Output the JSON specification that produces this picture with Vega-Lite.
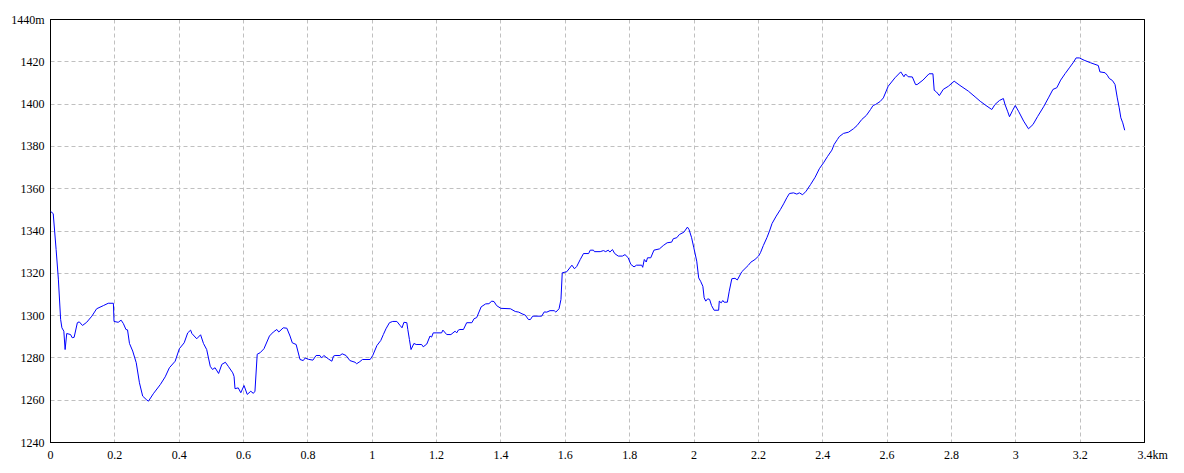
{
  "$schema": "https://vega.github.io/schema/vega-lite/v6.json",
  "width": 1094,
  "height": 423,
  "autosize": {"type": "none"},
  "padding": {"left": 50, "top": 19, "right": 40, "bottom": 31},
  "background": "white",
  "config": {
    "view": {"stroke": "black", "strokeWidth": 1},
    "axis": {
      "labelFont": "Liberation Sans Narrow",
      "labelFontSize": 12,
      "labelColor": "black",
      "domainColor": "black",
      "domainWidth": 1,
      "ticks": false,
      "title": null,
      "gridColor": "#c0c0c0",
      "gridDash": [4, 3],
      "gridWidth": 1
    }
  },
  "data": {"values": [
    {"d":0.002,"e":1349},{"d":0.010,"e":1348},{"d":0.019,"e":1331},{"d":0.026,"e":1317},{"d":0.033,"e":1298},{"d":0.037,"e":1294},{"d":0.043,"e":1292.4},{"d":0.047,"e":1283.7},{"d":0.052,"e":1291.3},{"d":0.064,"e":1290.8},{"d":0.069,"e":1289.3},{"d":0.075,"e":1289.5},{"d":0.085,"e":1296.4},{"d":0.091,"e":1296.8},{"d":0.101,"e":1295.1},{"d":0.114,"e":1296.6},{"d":0.130,"e":1299.5},{"d":0.145,"e":1303},{"d":0.166,"e":1304.5},{"d":0.181,"e":1305.6},{"d":0.197,"e":1305.6},{"d":0.199,"e":1297},{"d":0.212,"e":1296.6},{"d":0.221,"e":1297.6},{"d":0.228,"e":1296},{"d":0.236,"e":1293.2},{"d":0.241,"e":1293},{"d":0.247,"e":1286.6},{"d":0.257,"e":1283},{"d":0.268,"e":1277.5},{"d":0.278,"e":1268},{"d":0.288,"e":1261.7},{"d":0.299,"e":1260.1},{"d":0.306,"e":1259.3},{"d":0.321,"e":1262.8},{"d":0.343,"e":1267.2},{"d":0.358,"e":1270.8},{"d":0.371,"e":1275.1},{"d":0.389,"e":1278.2},{"d":0.402,"e":1284.1},{"d":0.417,"e":1286.9},{"d":0.428,"e":1291.6},{"d":0.437,"e":1292.9},{"d":0.441,"e":1291.3},{"d":0.456,"e":1288.8},{"d":0.468,"e":1290.7},{"d":0.477,"e":1286.6},{"d":0.487,"e":1283.7},{"d":0.498,"e":1275.8},{"d":0.505,"e":1274.3},{"d":0.513,"e":1275.1},{"d":0.524,"e":1272.4},{"d":0.534,"e":1276.7},{"d":0.545,"e":1277.7},{"d":0.554,"e":1275.8},{"d":0.568,"e":1272.7},{"d":0.572,"e":1271},{"d":0.575,"e":1265.2},{"d":0.585,"e":1265.6},{"d":0.593,"e":1263.3},{"d":0.603,"e":1266.7},{"d":0.613,"e":1262.5},{"d":0.624,"e":1264},{"d":0.632,"e":1263},{"d":0.637,"e":1264},{"d":0.644,"e":1281.5},{"d":0.653,"e":1282.2},{"d":0.665,"e":1284.1},{"d":0.682,"e":1290.1},{"d":0.694,"e":1292},{"d":0.705,"e":1293.2},{"d":0.711,"e":1292},{"d":0.725,"e":1294},{"d":0.736,"e":1293.8},{"d":0.746,"e":1290.1},{"d":0.753,"e":1286.9},{"d":0.765,"e":1286.1},{"d":0.777,"e":1279},{"d":0.787,"e":1278.5},{"d":0.793,"e":1279.7},{"d":0.803,"e":1279.1},{"d":0.817,"e":1278.7},{"d":0.827,"e":1280.9},{"d":0.839,"e":1280.9},{"d":0.844,"e":1279.7},{"d":0.851,"e":1280.9},{"d":0.865,"e":1279.3},{"d":0.876,"e":1278.2},{"d":0.881,"e":1280.6},{"d":0.886,"e":1280.9},{"d":0.901,"e":1280.9},{"d":0.908,"e":1281.7},{"d":0.920,"e":1280.9},{"d":0.932,"e":1278.5},{"d":0.948,"e":1277.7},{"d":0.953,"e":1277},{"d":0.963,"e":1278},{"d":0.971,"e":1279},{"d":0.995,"e":1279},{"d":1.003,"e":1280.9},{"d":1.016,"e":1285.6},{"d":1.028,"e":1288},{"d":1.036,"e":1290.8},{"d":1.044,"e":1293.5},{"d":1.055,"e":1296.4},{"d":1.065,"e":1297},{"d":1.078,"e":1297},{"d":1.088,"e":1295.1},{"d":1.094,"e":1294},{"d":1.100,"e":1296.6},{"d":1.109,"e":1296.4},{"d":1.112,"e":1293.2},{"d":1.117,"e":1288.5},{"d":1.122,"e":1283.7},{"d":1.131,"e":1286.6},{"d":1.138,"e":1286.1},{"d":1.155,"e":1286.1},{"d":1.160,"e":1285},{"d":1.171,"e":1286.3},{"d":1.181,"e":1290.1},{"d":1.186,"e":1289.6},{"d":1.191,"e":1291.6},{"d":1.217,"e":1291.6},{"d":1.221,"e":1292.9},{"d":1.233,"e":1290.8},{"d":1.246,"e":1290.8},{"d":1.259,"e":1292.4},{"d":1.264,"e":1291.6},{"d":1.269,"e":1292.9},{"d":1.274,"e":1293.2},{"d":1.285,"e":1293.2},{"d":1.295,"e":1296.4},{"d":1.311,"e":1296.4},{"d":1.318,"e":1298.3},{"d":1.326,"e":1298.8},{"d":1.340,"e":1303.9},{"d":1.354,"e":1305.3},{"d":1.364,"e":1305.4},{"d":1.373,"e":1306.6},{"d":1.380,"e":1306.4},{"d":1.388,"e":1304.5},{"d":1.401,"e":1303.2},{"d":1.431,"e":1303},{"d":1.446,"e":1301.7},{"d":1.457,"e":1301.4},{"d":1.467,"e":1300.6},{"d":1.477,"e":1300},{"d":1.487,"e":1297.9},{"d":1.493,"e":1297.9},{"d":1.500,"e":1299.5},{"d":1.528,"e":1299.5},{"d":1.536,"e":1301.5},{"d":1.544,"e":1301.4},{"d":1.554,"e":1302.1},{"d":1.567,"e":1302.1},{"d":1.572,"e":1301.4},{"d":1.582,"e":1303},{"d":1.588,"e":1307.4},{"d":1.592,"e":1320},{"d":1.606,"e":1320.5},{"d":1.622,"e":1323.6},{"d":1.630,"e":1321.9},{"d":1.637,"e":1323},{"d":1.648,"e":1326.3},{"d":1.658,"e":1329.1},{"d":1.674,"e":1329.1},{"d":1.679,"e":1330.7},{"d":1.689,"e":1330.7},{"d":1.692,"e":1330},{"d":1.710,"e":1330},{"d":1.720,"e":1330.5},{"d":1.727,"e":1330},{"d":1.735,"e":1330.7},{"d":1.740,"e":1329.8},{"d":1.748,"e":1331},{"d":1.755,"e":1329.1},{"d":1.766,"e":1327.9},{"d":1.779,"e":1327.9},{"d":1.787,"e":1328.6},{"d":1.797,"e":1327.1},{"d":1.805,"e":1324},{"d":1.815,"e":1322.8},{"d":1.823,"e":1323.6},{"d":1.839,"e":1323.6},{"d":1.842,"e":1322.6},{"d":1.847,"e":1326.3},{"d":1.853,"e":1325.1},{"d":1.857,"e":1327.1},{"d":1.867,"e":1327.1},{"d":1.877,"e":1330.7},{"d":1.894,"e":1331.3},{"d":1.906,"e":1332.9},{"d":1.918,"e":1334.2},{"d":1.932,"e":1334.5},{"d":1.937,"e":1336.1},{"d":1.948,"e":1336.6},{"d":1.956,"e":1338.1},{"d":1.970,"e":1339.2},{"d":1.981,"e":1341.6},{"d":1.986,"e":1340.5},{"d":1.994,"e":1336.6},{"d":2.001,"e":1331.8},{"d":2.010,"e":1325.5},{"d":2.016,"e":1317.6},{"d":2.022,"e":1316},{"d":2.029,"e":1313.6},{"d":2.033,"e":1308.2},{"d":2.038,"e":1306.6},{"d":2.044,"e":1307.7},{"d":2.050,"e":1307.4},{"d":2.056,"e":1304.5},{"d":2.064,"e":1302.3},{"d":2.078,"e":1302.3},{"d":2.080,"e":1306.6},{"d":2.086,"e":1305.8},{"d":2.091,"e":1306.9},{"d":2.095,"e":1306.1},{"d":2.105,"e":1306.1},{"d":2.111,"e":1311.3},{"d":2.119,"e":1317.2},{"d":2.129,"e":1317.4},{"d":2.136,"e":1316.6},{"d":2.150,"e":1320.5},{"d":2.170,"e":1323.5},{"d":2.178,"e":1325},{"d":2.191,"e":1326.3},{"d":2.202,"e":1327.9},{"d":2.208,"e":1329.5},{"d":2.217,"e":1332.9},{"d":2.228,"e":1336.6},{"d":2.236,"e":1339.7},{"d":2.244,"e":1343.3},{"d":2.257,"e":1346.8},{"d":2.270,"e":1349.9},{"d":2.280,"e":1352.6},{"d":2.290,"e":1355.5},{"d":2.298,"e":1357.5},{"d":2.311,"e":1357.8},{"d":2.321,"e":1357.2},{"d":2.329,"e":1357.8},{"d":2.339,"e":1356.9},{"d":2.350,"e":1358.6},{"d":2.364,"e":1361.8},{"d":2.378,"e":1365.2},{"d":2.391,"e":1369.2},{"d":2.404,"e":1372},{"d":2.416,"e":1374.9},{"d":2.430,"e":1378},{"d":2.437,"e":1380.7},{"d":2.447,"e":1383},{"d":2.453,"e":1384.4},{"d":2.466,"e":1385.9},{"d":2.482,"e":1386.5},{"d":2.497,"e":1388.1},{"d":2.508,"e":1389.6},{"d":2.523,"e":1392.5},{"d":2.537,"e":1394.4},{"d":2.550,"e":1397.2},{"d":2.558,"e":1399.1},{"d":2.566,"e":1399.6},{"d":2.580,"e":1401},{"d":2.590,"e":1402.7},{"d":2.605,"e":1408.2},{"d":2.626,"e":1412.2},{"d":2.644,"e":1415},{"d":2.654,"e":1412.7},{"d":2.659,"e":1414},{"d":2.667,"e":1412.7},{"d":2.680,"e":1412.6},{"d":2.690,"e":1409},{"d":2.695,"e":1409},{"d":2.713,"e":1411.1},{"d":2.732,"e":1414.1},{"d":2.744,"e":1414.1},{"d":2.748,"e":1406.3},{"d":2.755,"e":1405.5},{"d":2.764,"e":1403.8},{"d":2.776,"e":1406.7},{"d":2.792,"e":1408.2},{"d":2.810,"e":1410.6},{"d":2.828,"e":1408.6},{"d":2.854,"e":1405.9},{"d":2.875,"e":1403.2},{"d":2.891,"e":1401.1},{"d":2.909,"e":1399.1},{"d":2.927,"e":1397.2},{"d":2.937,"e":1399.6},{"d":2.951,"e":1401.5},{"d":2.963,"e":1402.4},{"d":2.968,"e":1399.6},{"d":2.976,"e":1396.4},{"d":2.982,"e":1393.8},{"d":2.992,"e":1396.9},{"d":3.000,"e":1399.1},{"d":3.010,"e":1396.4},{"d":3.026,"e":1391.7},{"d":3.041,"e":1388.1},{"d":3.055,"e":1390.1},{"d":3.069,"e":1393.8},{"d":3.088,"e":1398.5},{"d":3.103,"e":1402.7},{"d":3.117,"e":1406.7},{"d":3.129,"e":1407.5},{"d":3.141,"e":1411.1},{"d":3.155,"e":1414.2},{"d":3.168,"e":1416.9},{"d":3.181,"e":1419.6},{"d":3.189,"e":1421.6},{"d":3.199,"e":1421.6},{"d":3.214,"e":1420.5},{"d":3.234,"e":1419.3},{"d":3.258,"e":1418},{"d":3.263,"e":1415},{"d":3.279,"e":1414.6},{"d":3.286,"e":1413.4},{"d":3.292,"e":1411.9},{"d":3.302,"e":1410.9},{"d":3.310,"e":1409},{"d":3.317,"e":1402.7},{"d":3.323,"e":1398},{"d":3.328,"e":1393.3},{"d":3.334,"e":1390.9},{"d":3.340,"e":1387.4}
  ]},
  "mark": {"type": "line", "color": "#0000ff", "strokeWidth": 1, "interpolate": "linear", "clip": true},
  "encoding": {
    "x": {
      "field": "d", "type": "quantitative",
      "scale": {"domain": [0, 3.4], "nice": false, "zero": false},
      "axis": {
        "values": [0, 0.2, 0.4, 0.6, 0.8, 1, 1.2, 1.4, 1.6, 1.8, 2, 2.2, 2.4, 2.6, 2.8, 3, 3.2, 3.4],
        "labelExpr": "datum.value > 3.39 ? '3.4km' : format(datum.value, '~g')",
        "labelPadding": 7,
        "labelAlign": {"condition": {"test": "datum.value > 3.39", "value": "left"}, "value": "center"},
        "labelOffset": {"condition": {"test": "datum.value > 3.39", "value": -7}, "value": 0},
        "labelFlush": false,
        "labelOverlap": false,
        "gridColor": {"condition": {"test": "datum.value > 3.39 || datum.value < 0.01", "value": "black"}, "value": "#c0c0c0"},
        "gridDash": {"condition": {"test": "datum.value > 3.39 || datum.value < 0.01", "value": []}, "value": [4, 3]}
      }
    },
    "y": {
      "field": "e", "type": "quantitative",
      "scale": {"domain": [1240, 1440], "nice": false, "zero": false},
      "axis": {
        "values": [1240, 1260, 1280, 1300, 1320, 1340, 1360, 1380, 1400, 1420, 1440],
        "labelExpr": "datum.value == 1440 ? '1440m' : format(datum.value, 'd')",
        "labelPadding": 6,
        "labelFlush": false,
        "labelOverlap": false,
        "gridColor": {"condition": {"test": "datum.value == 1440 || datum.value == 1240", "value": "black"}, "value": "#c0c0c0"},
        "gridDash": {"condition": {"test": "datum.value == 1440 || datum.value == 1240", "value": []}, "value": [4, 3]}
      }
    }
  }
}
